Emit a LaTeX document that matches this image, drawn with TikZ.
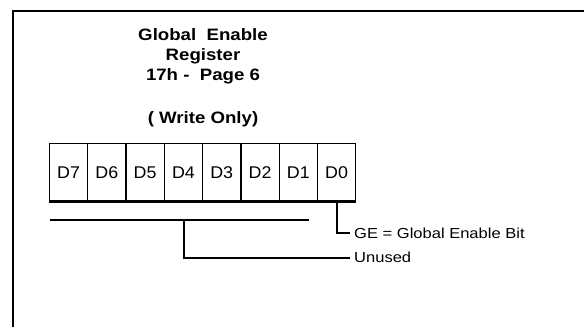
\documentclass[tikz,border=0pt]{standalone}
\usepackage{fontspec}
\usepackage{graphicx}
\setmainfont{Liberation Sans}
\newcommand{\ttlbox}[1]{\scalebox{1.13}[1]{\fontsize{16.5}{18}\selectfont\bfseries #1}}
\newcommand{\cellbox}[1]{\scalebox{1.05}[1]{\fontsize{17}{17}\selectfont #1}}
\newcommand{\lblbox}[1]{\scalebox{1.14}[1]{\fontsize{14.5}{15}\selectfont #1}}
\begin{document}
\begin{tikzpicture}[x=1pt,y=-1pt,
  cell/.style={draw,line width=1.2pt,minimum width=38.3pt,minimum height=57.7pt,inner sep=0pt,text height=12.2pt,text depth=0pt},
  ttl/.style={anchor=base,inner sep=0pt},
  lbl/.style={anchor=base west,inner sep=0pt},
  conn/.style={line width=2pt}]
\useasboundingbox (0,0) rectangle (584,327);
% frame
\draw[line width=2pt] (584,11) -- (12.5,11) -- (12.5,327);
% title
\node[ttl] (t1) at (203,40.5) {\ttlbox{Global\ \ Enable}};
\node[ttl] (t2) at (203,60.7) {\ttlbox{Register}};
\node[ttl] (t3) at (203,80.7) {\ttlbox{17h -\ \ Page 6}};
\node[ttl] (t4) at (203,123.3) {\ttlbox{( Write Only)}};
% cells
\foreach \i/\b in {0/7,1/6,2/5,3/4,4/3,5/2,6/1,7/0}{
  \node[cell] (d\b) at ({49.4+38.3*(\i+0.5)},172.1) {\cellbox{D\b}};
}
\draw[conn] (d7.south west) -- (d0.south east);
% GE connector
\coordinate (ge) at (350,233.3);
\node[lbl] (gel) at (354,238.5) {\lblbox{GE = Global Enable Bit}};
\draw[conn] (d0.south) |- (ge);
% unused bracket
\coordinate (ua) at (49.5,220);
\coordinate (ub) at (308.5,220);
\coordinate (um) at (184,220);
\coordinate (ue) at (350,257.7);
\node[lbl] (unl) at (354,262.9) {\lblbox{Unused}};
\draw[conn] (ua) -- (ub);
\draw[conn] (um) |- (ue);
\end{tikzpicture}
\end{document}
